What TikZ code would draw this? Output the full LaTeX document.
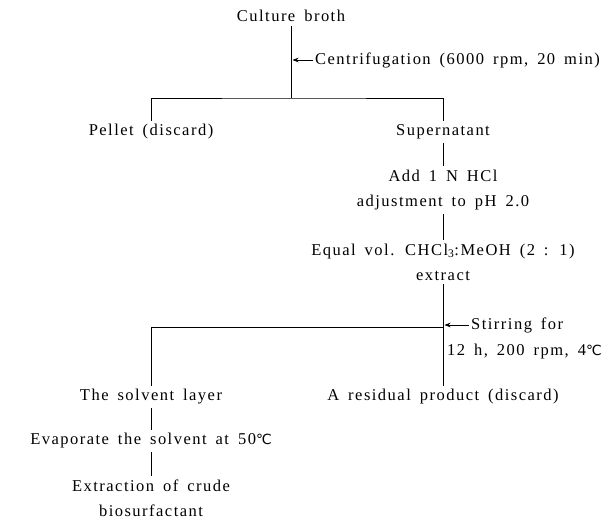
\documentclass[tikz,border=0pt]{standalone}
\usepackage{fontspec}
\setmainfont{Liberation Serif}[LetterSpace=9, WordSpace=1.6]
\newfontfamily\celsiusfont{DejaVu Sans}
\newcommand{\degC}{{\celsiusfont\fontsize{14}{14}\selectfont ℃}}
\usetikzlibrary{arrows.meta}

\tikzset{
  stage/.style={inner xsep=2pt, inner ysep=3.5pt, align=center},
  flow/.style={line width=0.8pt},
  note/.style={line width=0.6pt, -{Stealth[length=6pt,width=4.5pt]}}
}

\begin{document}
\begin{tikzpicture}[x=1pt, y=-1pt, font=\fontsize{16.5}{25}\selectfont]
  \useasboundingbox (0,0) rectangle (611,524);

  % stages
  \node[stage] (broth) at (291,16) {Culture broth};
  \node[stage] (pellet) at (151,132) {Pellet (discard)};
  \node[stage] (super) at (443,132) {Supernatant};
  \node[stage] (hcl) at (443,190) {Add 1 N HCl\\adjustment to pH 2.0};
  \node[stage] (chcl) at (443,262) {Equal vol. CHCl\textsubscript{3}:MeOH (2 : 1)\\extract};
  \node[stage] (solvent) at (151,397) {The solvent layer};
  \node[stage] (residue) at (443,397) {A residual product (discard)};
  \node[stage] (evap) at (151,441) {Evaporate the solvent at 50\degC};
  \node[stage] (crude) at (151,498) {Extraction of crude\\biosurfactant};

  % junctions
  \coordinate (split1) at (291,98);
  \coordinate (split2) at (443,327);

  % side notes
  \node[stage, anchor=west] (centri) at (313,60) {Centrifugation (6000 rpm, 20 min)};
  \node[stage, anchor=west] (stir) at (469,325) {Stirring for};
  \node[stage, anchor=west] (stircond) at (445,352) {12 h, 200 rpm, 4\degC};
  \coordinate (centritip) at (292.5,60);
  \coordinate (stirtip) at (444.5,325);

  % flow lines
  \draw[flow] (broth) -- (split1);
  \draw[flow] (pellet) |- (split1) -| (super);
  \draw[flow] (super) -- (hcl);
  \draw[flow] (hcl) -- (chcl);
  \draw[flow] (chcl) -- (residue);
  \draw[flow] (split2) -| (solvent);
  \draw[flow] (solvent) -- (evap);
  \draw[flow] (evap) -- (crude);

  \draw[note] (centri.west) -- (centritip);
  \draw[note] (stir.west) -- (stirtip);
\end{tikzpicture}
\end{document}
